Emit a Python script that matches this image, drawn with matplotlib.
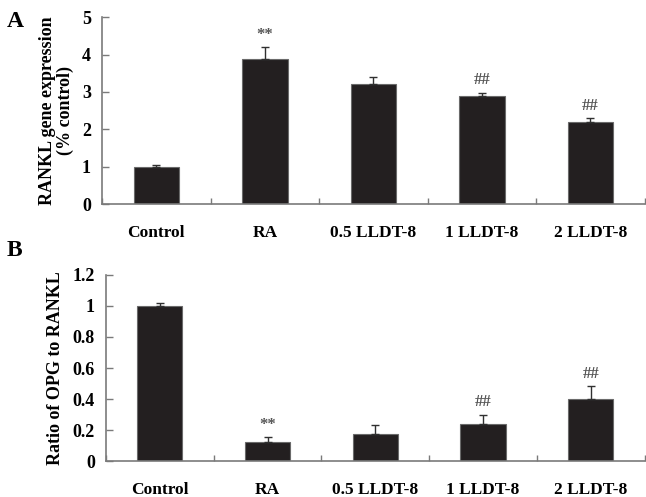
import matplotlib.pyplot as plt
import numpy as np

# group names and values
groups = ['Control', 'RA', '0.5 LLDT-8', '1 LLDT-8', '2 LLDT-8']

rankl_mean = [1.0, 3.88, 3.2, 2.9, 2.2]
rankl_err = [0.05, 0.32, 0.2, 0.08, 0.1]
rankl_marks = ['', '**', '', '##', '##']

ratio_mean = [1.0, 0.12, 0.175, 0.24, 0.40]
ratio_err = [0.02, 0.037, 0.055, 0.06, 0.085]
ratio_marks = ['', '**', '', '##', '##']

plt.rcParams['font.family'] = ['Liberation Serif', 'DejaVu Serif']
plt.rcParams['font.weight'] = 'bold'

BAR = '#231f20'
AXC = '#7a7a7a'


def draw_panel(ax, means, errs, marks, ylim, yticks, yticklabels, ylabel):
    x = np.arange(len(groups))
    lower = np.zeros(len(errs))
    ax.bar(x, means, width=0.42, color=BAR, edgecolor='#6a6a6a', linewidth=0.8, zorder=2)
    ax.errorbar(x, means, yerr=[lower, errs], fmt='none', ecolor='#303030',
                elinewidth=1.0, capsize=3, capthick=1.0, zorder=3)
    for xi, m, e, s in zip(x, means, errs, marks):
        if s:
            ax.annotate(s, (xi, m + e), xytext=(0, 3), textcoords='offset points',
                        ha='center', va='bottom', fontsize=12, color='#555555')
    ax.set_xlim(-0.5, len(groups) - 0.5)
    ax.set_ylim(*ylim)
    ax.set_yticks(yticks)
    ax.set_yticklabels(yticklabels, fontsize=13, fontweight='bold')
    ax.set_xticks(x)
    ax.set_xticklabels(groups, fontsize=12.5, fontweight='bold')
    ax.set_xticks(np.arange(len(groups) + 1) - 0.5, minor=True)
    ax.tick_params(axis='x', which='major', length=0, pad=15)
    ax.tick_params(axis='x', which='minor', direction='in', length=4, width=1, color=AXC)
    ax.tick_params(axis='y', direction='in', length=5, width=1, color=AXC, pad=8)
    for side in ['top', 'right']:
        ax.spines[side].set_visible(False)
    for side in ['left', 'bottom']:
        ax.spines[side].set_color(AXC)
        ax.spines[side].set_linewidth(1.2)
    ax.set_ylabel(ylabel, fontsize=13, fontweight='bold', labelpad=6, linespacing=1.0)


fig = plt.figure(figsize=(6.46, 4.97), dpi=100)
axA = fig.add_axes([0.158, 0.5895, 0.840, 0.376])
axB = fig.add_axes([0.164, 0.0724, 0.834, 0.3743])

draw_panel(axA, rankl_mean, rankl_err, rankl_marks, (0, 5), [0, 1, 2, 3, 4, 5],
           ['0', '1', '2', '3', '4', '5'], 'RANKL gene expression\n(% control)')
draw_panel(axB, ratio_mean, ratio_err, ratio_marks, (0, 1.2),
           [0, 0.2, 0.4, 0.6, 0.8, 1.0, 1.2],
           ['0', '0.2', '0.4', '0.6', '0.8', '1', '1.2'], 'Ratio of OPG to RANKL')

fig.text(0.01, 0.957, 'A', fontsize=17, fontweight='bold', va='center')
fig.text(0.01, 0.495, 'B', fontsize=17, fontweight='bold', va='center')

fig.savefig('out.png', dpi=100)
